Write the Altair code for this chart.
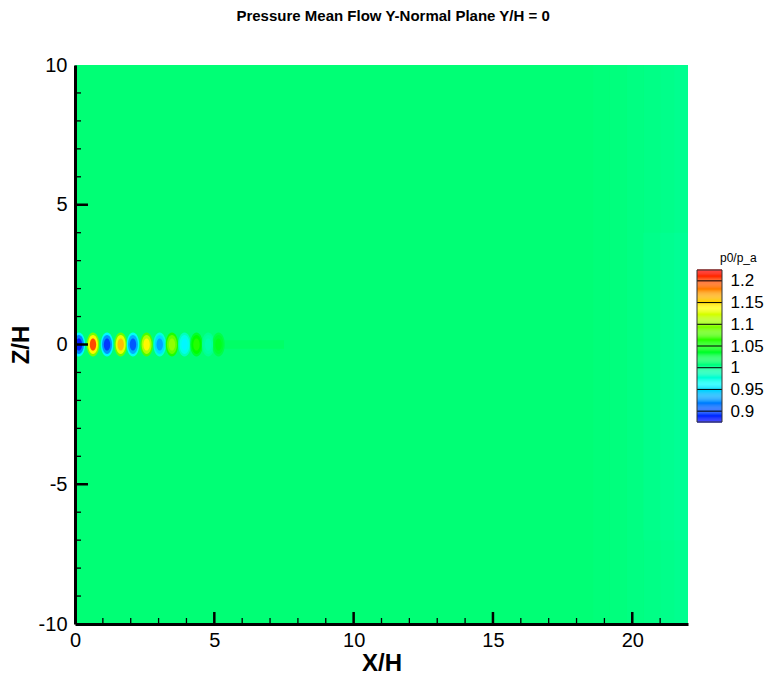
import altair as alt
import pandas as pd
import numpy as np

# ---------------- data ----------------
x_major = [0, 5, 10, 15, 20]
z_major = [-10, -5, 0, 5, 10]
x_minor = [1, 2, 3, 4, 6, 7, 8, 9, 11, 12, 13, 14, 16, 17, 18, 19, 21]
z_minor = [-9, -8, -7, -6, -4, -3, -2, -1, 1, 2, 3, 4, 6, 7, 8, 9]

# background p0/p_a patches (x0, x1, z0, z1, value)
bg_x0 = [0.0, 18.6, 19.2, 19.8, 20.4, 21.0, 21.5, 20.4, 21.0, 21.5, 4.8]
bg_x1 = [22.0, 19.2, 19.8, 20.4, 21.0, 21.5, 22.0, 21.0, 21.5, 22.0, 7.5]
bg_z0 = [-10.0, -10.0, -10.0, -10.0, -10.0, -10.0, -10.0, -7.0, -7.0, -7.0, -0.15]
bg_z1 = [10.0, 10.0, 10.0, 10.0, 10.0, 10.0, 10.0, 4.0, 4.0, 4.0, 0.15]
bg_val = [1.010, 1.0085, 1.007, 1.0055, 1.004, 1.0025, 1.001, 1.0025, 1.0005, 0.999, 1.015]

# shock-cell blobs along the jet axis (z = 0)
blob_x = [0.14, 0.645, 1.15, 1.64, 2.08, 2.57, 3.04, 3.48, 3.93, 4.36, 4.78, 5.15]
blob_halo = [0.960, 1.09, 0.960, 1.085, 0.965, 1.075, 0.975, 1.060, 0.985, 1.035, 1.000, 1.025]
blob_rim = [0.920, 1.14, 0.925, 1.130, 0.935, 1.110, 0.950, 1.085, 0.970, 1.050, 0.995, 1.033]
blob_core = [0.885, 1.20, 0.895, 1.160, 0.905, 1.140, 0.930, 1.100, 0.960, 1.062, 0.990, 1.040]

# colour bar levels
cb_ticks = [0.9, 0.95, 1.0, 1.05, 1.1, 1.15, 1.2]
cb_min, cb_max = 0.875, 1.225

# ---------------- tables ----------------
bg = pd.DataFrame({"x0": bg_x0, "x1": bg_x1, "z0": bg_z0, "z1": bg_z1, "v": bg_val})
blobs = pd.DataFrame({"x": blob_x, "z": [0.0] * len(blob_x), "halo": blob_halo,
                      "rim": blob_rim, "core": blob_core})
xmaj = pd.DataFrame({"t": x_major[1:]})
xmin = pd.DataFrame({"t": x_minor})
zmaj = pd.DataFrame({"t": z_major[1:-1]})
zmin = pd.DataFrame({"t": z_minor})

W, H = 613, 559
FONT = "Liberation Sans"
HYPHEN = "datum.value < 0 ? '-' + abs(datum.value) : '' + datum.value"

cmap = alt.Scale(domain=[0.875, 0.9625, 1.05, 1.1375, 1.225],
                 range=["#0000ff", "#00ffff", "#00ff00", "#ffff00", "#ff0000"],
                 interpolate="rgb", clamp=True)

xs = alt.Scale(domain=[0, 22], nice=False, zero=False)
zs = alt.Scale(domain=[-10, 10], nice=False, zero=False)

x_axis = alt.Axis(values=x_major, title="X/H", labelFont=FONT, labelFontSize=20,
                  labelColor="black", labelPadding=6, ticks=False, domainColor="black",
                  domainWidth=3, grid=False, titleFont=FONT, titleFontSize=24,
                  titleFontWeight="bold", titleColor="black", titlePadding=1,
                  labelFlush=False, zindex=1, labelExpr=HYPHEN)
z_axis = alt.Axis(values=z_major, title="Z/H", labelFont=FONT, labelFontSize=20,
                  labelColor="black", labelPadding=8, ticks=False, domainColor="black",
                  domainWidth=3, grid=False, titleFont=FONT, titleFontSize=24,
                  titleFontWeight="bold", titleColor="black", titlePadding=5,
                  labelFlush=False, zindex=1, labelExpr=HYPHEN)


def X(field):
    return alt.X(field, scale=xs, axis=x_axis)


def Z(field):
    return alt.Y(field, scale=zs, axis=z_axis)


background = alt.Chart(bg).mark_rect(clip=True, strokeWidth=0).encode(
    x=X("x0:Q"), x2="x1:Q", y=Z("z0:Q"), y2="z1:Q",
    color=alt.Color("v:Q", scale=cmap, legend=None),
)

ELLIPSE = "M0,-1 A0.52,1 0 1,1 0,1 A0.52,1 0 1,1 0,-1 Z"


def blob_layer(field, size):
    return alt.Chart(blobs).mark_point(shape=ELLIPSE, filled=True, opacity=1, size=size,
                                       strokeWidth=0, clip=True).encode(
        x=X("x:Q"), y=Z("z:Q"),
        color=alt.Color(f"{field}:Q", scale=cmap, legend=None),
    )


halo = blob_layer("halo", 580)
rim = blob_layer("rim", 360)
core = blob_layer("core", 150)

xt_major = alt.Chart(xmaj).mark_rule(color="black", strokeWidth=2.5).encode(
    x=X("t:Q"), y=alt.value(H), y2=alt.value(H - 12))
xt_minor = alt.Chart(xmin).mark_rule(color="black", strokeWidth=1.3).encode(
    x=X("t:Q"), y=alt.value(H), y2=alt.value(H - 6))
zt_major = alt.Chart(zmaj).mark_rule(color="black", strokeWidth=2.5).encode(
    y=Z("t:Q"), x=alt.value(0), x2=alt.value(13))
zt_minor = alt.Chart(zmin).mark_rule(color="black", strokeWidth=1.3).encode(
    y=Z("t:Q"), x=alt.value(0), x2=alt.value(6))

main = alt.layer(background, halo, rim, core, xt_minor, xt_major, zt_minor, zt_major).properties(
    width=W, height=H)

# ---------------- colour bar ----------------
CB_TOP, CB_BOT = 205, 357          # pixel rows of the bar inside its panel
ppu = (CB_BOT - CB_TOP) / (cb_max - cb_min)
cb_scale = alt.Scale(domain=[cb_min - (H - CB_BOT) / ppu, cb_max + CB_TOP / ppu],
                     nice=False, zero=False)
lv = np.linspace(cb_min, cb_max, 141)
step = lv[1] - lv[0]
cb = pd.DataFrame({"v": lv, "lo": lv - step / 2, "hi": lv + step / 2})
cb_axis = alt.Axis(values=cb_ticks, orient="right", domain=False, ticks=False, grid=False,
                   labelFont=FONT, labelFontSize=17, labelColor="black", labelPadding=8,
                   title=None, format=".3~g")

cb_rect = alt.Chart(cb).mark_rect(strokeWidth=0).encode(
    y=alt.Y("lo:Q", scale=cb_scale, axis=cb_axis),
    y2="hi:Q",
    x=alt.value(0), x2=alt.value(25),
    color=alt.Color("v:Q", scale=cmap, legend=None),
)
cb_lines = alt.Chart(pd.DataFrame({"t": cb_ticks})).mark_rule(color="black", strokeWidth=1).encode(
    y=alt.Y("t:Q", scale=cb_scale, axis=cb_axis), x=alt.value(0), x2=alt.value(25))
cb_frame = alt.Chart(pd.DataFrame({"a": [cb_min], "b": [cb_max]})).mark_rect(
    fill=None, stroke="#333333", strokeWidth=1).encode(
    y=alt.Y("a:Q", scale=cb_scale, axis=cb_axis), y2="b:Q", x=alt.value(0), x2=alt.value(25))
cb_title = alt.Chart(pd.DataFrame({"s": ["p0/p_a"]})).mark_text(
    font=FONT, fontSize=12, align="left", baseline="middle", color="black").encode(
    text="s:N", x=alt.value(23), y=alt.value(CB_TOP - 12))

colorbar = alt.layer(cb_rect, cb_lines, cb_frame, cb_title).properties(width=25, height=H)

chart = alt.hconcat(main, colorbar, spacing=8).properties(
    padding={"left": 1, "top": 1, "right": 2, "bottom": 0},
    title=alt.Title("Pressure Mean Flow Y-Normal Plane Y/H = 0", font=FONT, fontSize=15,
                    fontWeight="bold", color="black", anchor="middle", offset=31, dx=7),
).resolve_scale(color="shared").configure_view(stroke=None)

chart.save("out.html", embed_options={"renderer": "svg", "actions": False})
